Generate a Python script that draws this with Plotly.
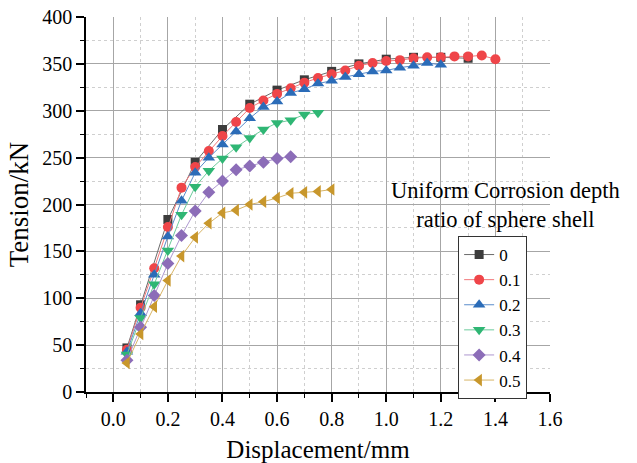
import plotly.graph_objects as go

# ---- data ----
labels = ["0", "0.1", "0.2", "0.3", "0.4", "0.5"]

x0 = [0.05, 0.1, 0.2, 0.3, 0.4, 0.5, 0.6, 0.7, 0.8, 0.9, 1.0, 1.1, 1.2, 1.3]
y0 = [47, 93, 184, 245, 280, 307, 322, 333, 342, 350, 355, 357, 357, 356]

x1 = [0.05, 0.1, 0.15, 0.2, 0.25, 0.3, 0.35, 0.4, 0.45, 0.5, 0.55, 0.6, 0.65, 0.7,
      0.75, 0.8, 0.85, 0.9, 0.95, 1.0, 1.05, 1.1, 1.15, 1.2, 1.25, 1.3, 1.35, 1.4]
y1 = [45, 90, 132, 176, 218, 240, 257, 273, 288, 303, 311, 318, 324, 330,
      335, 339, 343, 348, 351, 353, 354, 356, 357, 357, 358, 358, 359, 355]

x2 = [0.05, 0.1, 0.15, 0.2, 0.25, 0.3, 0.35, 0.4, 0.45, 0.5, 0.55, 0.6, 0.65, 0.7,
      0.75, 0.8, 0.85, 0.9, 0.95, 1.0, 1.05, 1.1, 1.15, 1.2]
y2 = [43, 84, 125, 166, 204, 234, 250, 264, 278, 292, 304, 310, 319, 323,
      329, 332, 336, 339, 342, 343, 346, 348, 351, 349]

x3 = [0.05, 0.1, 0.15, 0.2, 0.25, 0.3, 0.35, 0.4, 0.45, 0.5, 0.55, 0.6, 0.65, 0.7, 0.75]
y3 = [40, 79, 115, 151, 189, 219, 236, 249, 261, 271, 280, 287, 290, 296, 298]

x4 = [0.05, 0.1, 0.15, 0.2, 0.25, 0.3, 0.35, 0.4, 0.45, 0.5, 0.55, 0.6, 0.65]
y4 = [34, 69, 103, 137, 167, 193, 213, 225, 237, 241, 245, 249, 251]

x5 = [0.05, 0.1, 0.15, 0.2, 0.25, 0.3, 0.35, 0.4, 0.45, 0.5, 0.55, 0.6, 0.65, 0.7, 0.75, 0.8]
y5 = [31, 62, 91, 119, 145, 165, 180, 191, 194, 200, 203, 207, 212, 213, 214, 216]

xs = [x0, x1, x2, x3, x4, x5]
ys = [y0, y1, y2, y3, y4, y5]

# ---- styles ----
colors = ["#3c3c3c", "#ef4549", "#2b6cb8", "#2fb674", "#8c6db8", "#c8972c"]
line_colors = ["#6a6a6a", "#f2787b", "#5a8ccb", "#6dcb9c", "#ad97cf", "#d8b567"]
symbols = ["square", "circle", "triangle-up", "triangle-down", "diamond", "triangle-left"]
sizes = [9, 10, 11, 11, 10, 11]

FONT = "Liberation Serif"

fig = go.Figure()
for lab, x, y, c, lc, s, sz in zip(labels, xs, ys, colors, line_colors, symbols, sizes):
    fig.add_trace(go.Scatter(
        x=x, y=y, name=lab, mode="lines+markers",
        line=dict(color=lc, width=1),
        marker=dict(symbol=s, size=sz, color=c, line=dict(width=0)),
    ))

fig.update_layout(
    width=637, height=463,
    margin=dict(l=86, r=87, t=17, b=71),
    paper_bgcolor="white", plot_bgcolor="white",
    font=dict(family=FONT, color="black", size=19),
    showlegend=True,
    legend=dict(
        x=0.802, y=0.416, xanchor="left", yanchor="top",
        bordercolor="#333333", borderwidth=1, bgcolor="white",
        font=dict(family=FONT, size=17, color="black"),
        tracegroupgap=0, itemwidth=30,
    ),
    annotations=[dict(
        text="Uniform Corrosion depth<br>ratio of sphere shell",
        xref="paper", yref="paper", x=0.905, y=0.422,
        xanchor="center", yanchor="bottom", showarrow=False, align="center",
        font=dict(family=FONT, size=22.5, color="black"),
    )],
)

fig.update_xaxes(
    range=[-0.1, 1.6], tickmode="linear", tick0=0, dtick=0.2, tickformat=".1f",
    showline=True, linecolor="black", linewidth=1.5,
    ticks="outside", ticklen=8, tickwidth=1.5, tickcolor="black",
    showgrid=True, gridcolor="#a6a6a6", gridwidth=1,
    zeroline=False, mirror=False, automargin=False,
    minor=dict(dtick=0.1, tick0=0, showgrid=True, gridcolor="#cfcfcf", griddash="dot",
               ticks="outside", ticklen=4, tickcolor="black", tickwidth=1),
    title=dict(text="Displacement/mm", font=dict(family=FONT, size=25), standoff=20),
    tickfont=dict(family=FONT, size=20),
)
fig.update_yaxes(
    range=[0, 400], tickmode="linear", tick0=0, dtick=50,
    showline=True, linecolor="black", linewidth=1.5,
    ticks="outside", ticklen=8, tickwidth=1.5, tickcolor="black",
    showgrid=True, gridcolor="#a6a6a6", gridwidth=1,
    zeroline=False, mirror=False, automargin=False,
    minor=dict(dtick=25, tick0=0, showgrid=True, gridcolor="#cfcfcf", griddash="dot",
               ticks="outside", ticklen=4, tickcolor="black", tickwidth=1),
    title=dict(text="Tension/kN", font=dict(family=FONT, size=27), standoff=6),
    tickfont=dict(family=FONT, size=20),
)

fig.write_html("out.html")
